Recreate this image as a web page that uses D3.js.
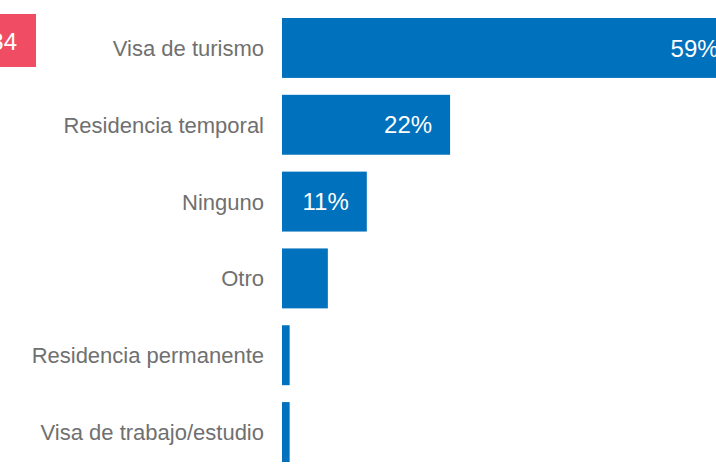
<!DOCTYPE html>
<html>
<head>
<meta charset="utf-8">
<script src="https://cdn.jsdelivr.net/npm/d3@7"></script>
<style>
  html, body { margin: 0; padding: 0; background: #fff; overflow: hidden; }
  svg { display: block; font-family: "Liberation Sans", Arial, sans-serif; }
</style>
</head>
<body>
<div id="vis"></div>
<script>
// Visa status chart

const categories = [
  'Visa de turismo',
  'Residencia temporal',
  'Ninguno',
  'Otro',
  'Residencia permanente',
  'Visa de trabajo/estudio',
];
const values = [59.5, 22, 11.1, 6, 1, 1];
const valueLabels = ['59%', '22%', '11%', '', '', ''];
const badgeText = '34';

const VIS_CONFIG = {
  width: 716,
  height: 465,
  barLeft: 282,
  pxPerUnit: 7.64,
  barColor: '#0071bc',
  labelColor: '#707070',
  badgeColor: '#f04d65',
};

function initVis() {
  const container = d3.select('#vis');
  container.html('');

  const svg = container
    .append('svg')
    .attr('width', VIS_CONFIG.width)
    .attr('height', VIS_CONFIG.height);

  const x = d3
    .scaleLinear()
    .domain([0, 100])
    .range([VIS_CONFIG.barLeft, VIS_CONFIG.barLeft + 100 * VIS_CONFIG.pxPerUnit]);

  const y = d3
    .scaleBand()
    .domain(categories)
    .range([18, 462])
    .paddingInner(0.22)
    .paddingOuter(0);

  const data = categories.map((c, i) => ({ cat: c, val: values[i], label: valueLabels[i] }));

  // bars
  svg
    .selectAll('rect.bar')
    .data(data)
    .join('rect')
    .attr('class', 'bar')
    .attr('x', x(0))
    .attr('y', (d) => y(d.cat))
    .attr('width', (d) => x(d.val) - x(0))
    .attr('height', y.bandwidth())
    .attr('fill', VIS_CONFIG.barColor);

  // value labels inside bars
  svg
    .selectAll('text.val')
    .data(data.filter((d) => d.label))
    .join('text')
    .attr('class', 'val')
    .attr('x', (d) => x(d.val) - 18)
    .attr('y', (d) => y(d.cat) + y.bandwidth() / 2)
    .attr('dy', '0.36em')
    .attr('text-anchor', 'end')
    .attr('fill', '#fff')
    .attr('font-size', '24px')
    .text((d) => d.label);

  // category labels
  svg
    .selectAll('text.cat')
    .data(data)
    .join('text')
    .attr('class', 'cat')
    .attr('x', x(0) - 18)
    .attr('y', (d) => y(d.cat) + y.bandwidth() / 2)
    .attr('dy', '0.36em')
    .attr('text-anchor', 'end')
    .attr('fill', VIS_CONFIG.labelColor)
    .attr('font-size', '22px')
    .text((d) => d.cat);

  // question number badge, partly off-canvas
  svg
    .append('rect')
    .attr('x', -30)
    .attr('y', 14)
    .attr('width', 66)
    .attr('height', 53)
    .attr('fill', VIS_CONFIG.badgeColor);

  svg
    .append('text')
    .attr('x', 17)
    .attr('y', 50)
    .attr('text-anchor', 'end')
    .attr('fill', '#fff')
    .attr('font-size', '24px')
    .text(badgeText);
}

initVis();
</script>
</body>
</html>
